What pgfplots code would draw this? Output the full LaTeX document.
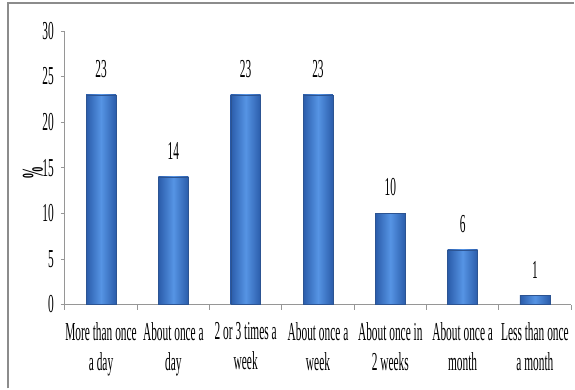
\documentclass[border=0pt]{standalone}
\usepackage{fontspec}
\setmainfont{Liberation Serif}[FakeStretch=0.44]
\usepackage{pgfplots}
\pgfplotsset{compat=1.18}

\definecolor{barDark}{RGB}{42,92,170}
\definecolor{barLight}{RGB}{86,148,228}
\definecolor{barEdge}{RGB}{44,84,146}
\definecolor{axisGray}{RGB}{150,150,150}
\definecolor{frameGray}{RGB}{140,140,140}

\pgfplotsset{
  bluebar/.style={draw=barEdge, line width=0.4bp, bar shift=0pt,
    left color=barDark, right color=barDark, middle color=barLight},
}

\begin{document}
\begin{tikzpicture}
\begin{axis}[
  at={(0,0)}, anchor=south west,
  scale only axis,
  width=507bp, height=274bp,
  xmin=-0.5, xmax=6.5,
  ymin=0, ymax=30,
  axis x line*=bottom, axis y line*=left,
  axis line style={axisGray, line width=0.8bp},
  ytick={0,5,...,30},
  xtick={0,...,6},
  xticklabels={More than once\\a day, About once a\\day, 2 or 3 times a\\week, About once a\\week, About once in\\2 weeks, About once a\\month, Less than once\\a month},
  minor xtick={-0.5,0.5,...,6.5},
  major x tick style={draw=none},
  minor tick length=5bp,
  major tick length=4bp,
  tick align=outside,
  tick style={axisGray, line width=0.8bp},
  /pgf/number format/assume math mode=true,
  tick label style={font=\fontsize{26}{30}\selectfont, text=black},
  yticklabel style={anchor=east, inner sep=0pt, xshift=-7bp},
  xticklabel style={align=center, anchor=north, inner sep=0pt, yshift=-14bp,
    execute at begin node={\setlength{\baselineskip}{30bp}}},
  ylabel={\textbf{\%}},
  every axis y label/.style={at={(axis description cs:-0.063,0.48)}, anchor=center, rotate=90, font=\fontsize{30}{30}\selectfont},
  ybar, bar width=30bp,
  nodes near coords,
  every node near coord/.append style={font=\fontsize{26}{30}\selectfont, text=black, anchor=south, inner sep=0pt, yshift=17bp},
  clip=false,
]
% one plot per bar so that each bar gets its own shading
\addplot[bluebar] coordinates {(0,23)};
\addplot[bluebar] coordinates {(1,14)};
\addplot[bluebar] coordinates {(2,23)};
\addplot[bluebar] coordinates {(3,23)};
\addplot[bluebar] coordinates {(4,10)};
\addplot[bluebar] coordinates {(5,6)};
\addplot[bluebar] coordinates {(6,1)};
\end{axis}
% outer frame of the chart area
\draw[frameGray, line width=1.8bp] (-57bp,-84bp) -- (-57bp,302bp) -- (510bp,302bp);
\useasboundingbox (-65bp,-84bp) rectangle (510bp,305bp);
\end{tikzpicture}
\end{document}
